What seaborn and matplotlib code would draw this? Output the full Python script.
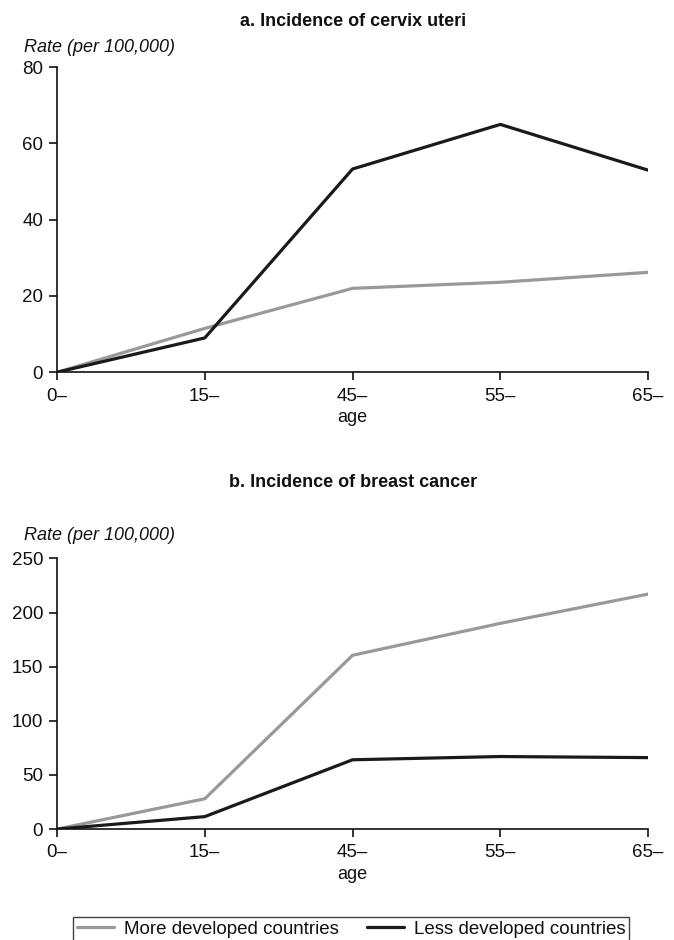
import pandas as pd
import matplotlib
matplotlib.use("Agg")
import matplotlib.pyplot as plt
import seaborn as sns

# age groups (categorical x axis)
ages = ["0–", "15–", "45–", "55–", "65–"]
series_names = ["More developed countries", "Less developed countries"]

# a. cervix uteri, rate per 100,000
cervix_more = [0, 11.5, 22, 23.6, 26.2]
cervix_less = [0, 9, 53.3, 65, 53]

# b. breast cancer, rate per 100,000
breast_more = [0, 28, 160.5, 190, 217]
breast_less = [0, 11.5, 64, 67, 66]

sns.set_theme(style="ticks")
plt.rcParams['font.family'] = ['Liberation Sans', 'DejaVu Sans']
plt.rcParams['axes.linewidth'] = 1.2
plt.rcParams['text.color'] = '#111111'
plt.rcParams['axes.labelcolor'] = '#111111'
plt.rcParams['xtick.color'] = '#111111'
plt.rcParams['ytick.color'] = '#111111'
plt.rcParams['axes.edgecolor'] = '#111111'

colors = {"More developed countries": "#999999", "Less developed countries": "#1a1a1a"}


def to_long(more, less):
    rows = []
    for i, a in enumerate(ages):
        rows.append({"pos": i, "age": a, "Rate": more[i], "series": series_names[0]})
        rows.append({"pos": i, "age": a, "Rate": less[i], "series": series_names[1]})
    return pd.DataFrame(rows)


fig = plt.figure(figsize=(6.74, 9.4), dpi=100)
ax_a = fig.add_axes([0.0846, 0.604, 0.877, 0.3245])
ax_b = fig.add_axes([0.0846, 0.118, 0.877, 0.288])

panels = [
    (ax_a, to_long(cervix_more, cervix_less), 80, [0, 20, 40, 60, 80],
     "a. Incidence of cervix uteri", 0.977, 0.950),
    (ax_b, to_long(breast_more, breast_less), 250, [0, 50, 100, 150, 200, 250],
     "b. Incidence of breast cancer", 0.487, 0.430),
]

for ax, df, ymax, yticks, title, ty, ry in panels:
    sns.lineplot(data=df, x="pos", y="Rate", hue="series", palette=colors,
                 hue_order=series_names, linewidth=2.3, ax=ax, legend=False)
    ax.set_xlim(0, 4)
    ax.set_ylim(0, ymax)
    ax.set_xticks(range(len(ages)))
    ax.set_xticklabels(ages)
    ax.set_yticks(yticks)
    ax.set_xlabel("age", fontsize=13, labelpad=3)
    ax.set_ylabel("")
    ax.tick_params(axis="both", labelsize=13.5, length=6, width=1.2)
    ax.tick_params(axis="x", pad=5)
    ax.tick_params(axis="y", pad=4)
    sns.despine(ax=ax)
    fig.text(0.5233, ty, title, ha="center", va="center", fontsize=13,
             fontweight="bold")
    fig.text(0.036, ry, "Rate (per 100,000)", ha="left", va="center",
             fontsize=13, style="italic")

handles = [plt.Line2D([], [], color=colors[s], linewidth=2.3) for s in series_names]
leg = fig.legend(handles, series_names, loc="upper center", ncol=2,
                 bbox_to_anchor=(0.521, 1 - 917 / 940), bbox_transform=fig.transFigure,
                 frameon=True, fancybox=False, fontsize=13.5, handlelength=2.0,
                 handletextpad=0.5, columnspacing=1.5, borderpad=0.2,
                 borderaxespad=0)
leg.get_frame().set_edgecolor("#111111")
leg.get_frame().set_linewidth(1.0)

fig.savefig("out.png", dpi=100)
